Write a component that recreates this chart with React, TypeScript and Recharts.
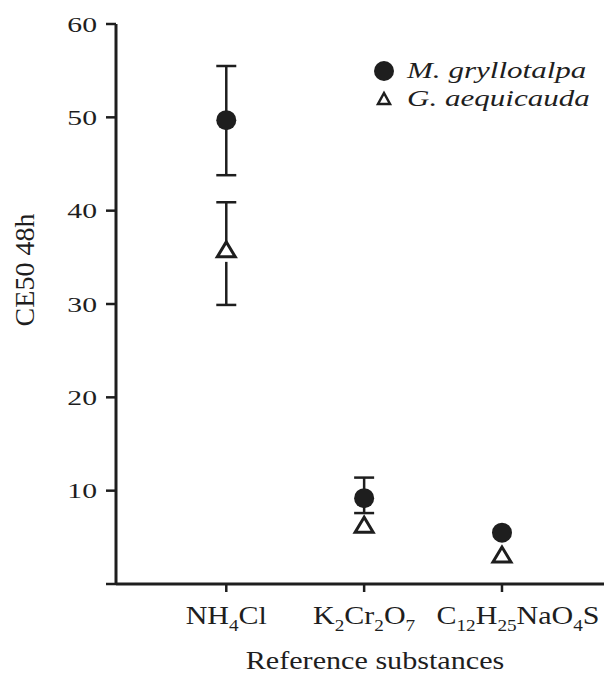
import React from 'react';
import { ScatterChart, Scatter, XAxis, YAxis, ErrorBar, Legend } from 'recharts';

const substances = ['NH4Cl', 'K2Cr2O7', 'C12H25NaO4S'];
const gryllotalpaMean = [49.7, 9.2, 5.5];
const gryllotalpaLow = [43.8, 7.6, null];
const gryllotalpaHigh = [55.5, 11.4, null];
const aequicaudaMean = [35.8, 6.3, 3.1];
const aequicaudaLow = [29.9, null, null];
const aequicaudaHigh = [40.9, null, null];
const yTicks = [0, 10, 20, 30, 40, 50, 60];
const xTicks = [1, 2, 3];

const INK = '#1e1e1e';
const FONT = '"Liberation Serif", "Times New Roman", serif';
// the long formula sits a little right of its tick in the original
const TICK_LABEL_DX = [0, 0, 16];

const buildRows = (mean: number[], low: (number | null)[], high: (number | null)[]) =>
  mean.map((v, i) => ({
    x: i + 1,
    y: v,
    name: substances[i],
    err: low[i] == null || high[i] == null ? null : [v - (low[i] as number), (high[i] as number) - v],
  }));

const gryllotalpa = buildRows(gryllotalpaMean, gryllotalpaLow, gryllotalpaHigh);
const aequicauda = buildRows(aequicaudaMean, aequicaudaLow, aequicaudaHigh);

const Dot = (props: any) => <circle cx={props.cx} cy={props.cy} r={10} fill={INK} />;

const Nothing = () => <g />;

const Triangle = (props: any) => {
  const { cx, cy } = props;
  return (
    <g>
      {/* small white gap under the open triangle, like the print */}
      <rect x={cx - 4} y={cy + 6} width={8} height={6} fill="#fff" />
      <polygon
        points={`${cx},${cy - 8} ${cx - 9},${cy + 7} ${cx + 9},${cy + 7}`}
        fill="#fff"
        stroke={INK}
        strokeWidth={3}
      />
    </g>
  );
};

// chemical formula: digits are subscripts, drawn with baseline-shift
const Formula = ({ text }: { text: string }) => {
  const parts = text.split(/(\d+)/).filter(Boolean);
  return (
    <>
      {parts.map((p, i) =>
        /\d/.test(p) ? (
          <tspan key={i} fontSize={16} baselineShift="-7">{p}</tspan>
        ) : (
          <tspan key={i}>{p}</tspan>
        )
      )}
    </>
  );
};

const XTick = (props: any) => {
  const { x, y, payload } = props;
  const idx = payload.value - 1;
  const label = substances[idx];
  if (!label) return null;
  return (
    <g transform={`translate(${x + (TICK_LABEL_DX[idx] || 0)},${y + 18})`}>
      <text
        x={0}
        y={0}
        textAnchor="middle"
        fontFamily={FONT}
        fontSize={25}
        fill={INK}
        transform="scale(1.2,1)"
      >
        <Formula text={label} />
      </text>
    </g>
  );
};

const YTick = (props: any) => {
  const { x, y, payload } = props;
  if (payload.value === 0) return null;
  return (
    <g transform={`translate(${x},${y})`}>
      <text
        x={0}
        y={0}
        dy="0.35em"
        textAnchor="end"
        fontFamily={FONT}
        fontSize={22}
        fill={INK}
        transform="scale(1.35,1)"
      >
        {payload.value}
      </text>
    </g>
  );
};

const XLabel = (p: any) => {
  const vb = p.viewBox;
  const cx = vb.x + vb.width / 2 + 15;
  const cy = vb.y + 85;
  return (
    <g transform={`translate(${cx},${cy})`}>
      <text x={0} y={0} textAnchor="middle" fontFamily={FONT} fontSize={26} fill={INK} transform="scale(1.16,1)">
        Reference substances
      </text>
    </g>
  );
};

const YLabel = (p: any) => {
  const vb = p.viewBox;
  const cx = vb.x + 24;
  const cy = vb.y + vb.height / 2 - 34;
  return (
    <text
      x={cx}
      y={cy}
      textAnchor="middle"
      dominantBaseline="central"
      fontFamily={FONT}
      fontSize={28}
      fill={INK}
      transform={`rotate(-90, ${cx}, ${cy})`}
    >
      CE50 48h
    </text>
  );
};

const series = [
  { name: 'M. gryllotalpa', marker: 'dot' },
  { name: 'G. aequicauda', marker: 'triangle' },
];

const renderLegend = () => (
  <div style={{ fontFamily: FONT }}>
    {series.map((s) => (
      <div key={s.name} style={{ display: 'flex', alignItems: 'center', height: 28 }}>
        <svg width={24} height={24} style={{ flex: 'none' }}>
          {s.marker === 'dot' ? (
            <circle cx={12} cy={12} r={10} fill={INK} />
          ) : (
            <polygon points="12,6 6,17 18,17" fill="#fff" stroke={INK} strokeWidth={2.5} />
          )}
        </svg>
        <span
          style={{
            marginLeft: 11,
            fontSize: 23,
            fontStyle: 'italic',
            color: INK,
            display: 'inline-block',
            whiteSpace: 'nowrap',
            transform: 'scale(1.35,1)',
            transformOrigin: 'left center',
          }}
        >
          {s.name}
        </span>
      </div>
    ))}
  </div>
);

export default function App() {
  return (
    <div style={{ position: 'absolute', left: 0, top: 0, background: '#fff' }}>
      <ScatterChart width={604} height={682} margin={{ top: 24, right: 0, left: 0, bottom: 0 }}>
        <XAxis
          type="number"
          dataKey="x"
          domain={[0.2, 3.74]}
          ticks={xTicks}
          allowDataOverflow
          height={98}
          stroke={INK}
          strokeWidth={3}
          tickSize={8}
          tickMargin={14}
          tickLine={{ stroke: INK, strokeWidth: 2.5 }}
          tick={<XTick />}
          label={{ content: XLabel }}
        />
        <YAxis
          type="number"
          dataKey="y"
          domain={[0, 60]}
          ticks={yTicks}
          allowDataOverflow
          width={116}
          stroke={INK}
          strokeWidth={3}
          tickSize={10}
          tickMargin={9}
          tickLine={{ stroke: INK, strokeWidth: 2.5 }}
          tick={<YTick />}
          label={{ content: YLabel }}
        />
        <Legend
          layout="vertical"
          align="center"
          verticalAlign="middle"
          wrapperStyle={{ top: 57, left: 372, width: 232 }}
          content={renderLegend}
        />
        <Scatter name="M. gryllotalpa" data={gryllotalpa} shape={Dot} isAnimationActive={false}>
          <ErrorBar dataKey="err" direction="y" width={10} stroke={INK} strokeWidth={2.5} />
        </Scatter>
        {/* error bars of the second series first, then its open triangles on top */}
        <Scatter name="G. aequicauda bars" data={aequicauda} shape={Nothing} legendType="none" isAnimationActive={false}>
          <ErrorBar dataKey="err" direction="y" width={10} stroke={INK} strokeWidth={2.5} />
        </Scatter>
        <Scatter name="G. aequicauda" data={aequicauda} shape={Triangle} isAnimationActive={false} />
      </ScatterChart>
    </div>
  );
}
